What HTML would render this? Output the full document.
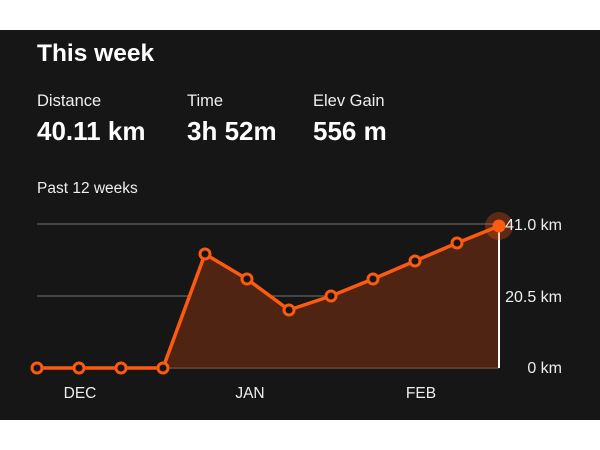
<!DOCTYPE html>
<html><head><style>
body{margin:0;width:600px;height:450px;background:#fff;overflow:hidden;font-family:"Liberation Sans",sans-serif}
</style></head><body>
<svg width="600" height="450" xmlns="http://www.w3.org/2000/svg" style="position:absolute;left:0;top:0">
<rect x="0" y="30" width="600" height="390" fill="#161616"/>
<text x="37" y="61" fill="#fff" font-size="24.5" font-weight="bold">This week</text>
<text x="37" y="106" fill="#eee" font-size="16.5">Distance</text>
<text x="187" y="106" fill="#eee" font-size="16.5">Time</text>
<text x="313" y="106" fill="#eee" font-size="16.5">Elev Gain</text>
<text x="37" y="140" fill="#fff" font-size="26" font-weight="bold">40.11 km</text>
<text x="187" y="140" fill="#fff" font-size="26" font-weight="bold">3h 52m</text>
<text x="313" y="140" fill="#fff" font-size="26" font-weight="bold">556 m</text>
<text x="37" y="193" fill="#eee" font-size="15.5">Past 12 weeks</text>
<g stroke="#555" stroke-width="1.5">
<line x1="37" y1="224" x2="499" y2="224"/>
<line x1="37" y1="296" x2="499" y2="296"/>
<line x1="37" y1="368" x2="499" y2="368"/>
</g>
<polygon fill="#4f2412" points="163,368 205,254 247,279 289,310 331,296 373,279 415,261 457,243 499,226 499,368"/>
<line x1="163" y1="368" x2="499" y2="368" stroke="#6a4030" stroke-width="1.5"/>
<line x1="499" y1="226" x2="499" y2="368" stroke="#fff" stroke-width="2"/>
<polyline fill="none" stroke="#fc5a10" stroke-width="3.5" stroke-linejoin="round" points="37,368 79,368 121,368 163,368 205,254 247,279 289,310 331,296 373,279 415,261 457,243 499,226"/>
<g fill="#161616" stroke="#fc5a10" stroke-width="3">
<circle cx="37" cy="368" r="5"/><circle cx="79" cy="368" r="5"/><circle cx="121" cy="368" r="5"/><circle cx="163" cy="368" r="5"/>
<circle cx="205" cy="254" r="5"/><circle cx="247" cy="279" r="5"/><circle cx="289" cy="310" r="5"/><circle cx="331" cy="296" r="5"/>
<circle cx="373" cy="279" r="5"/><circle cx="415" cy="261" r="5"/><circle cx="457" cy="243" r="5"/>
</g>
<circle cx="499" cy="226" r="14" fill="#fc5a10" opacity="0.3"/>
<circle cx="499" cy="226" r="6.5" fill="#fc5a10"/>
<g fill="#eee" font-size="16" text-anchor="end">
<text x="562" y="230">41.0 km</text>
<text x="562" y="302">20.5 km</text>
<text x="562" y="373">0 km</text>
</g>
<g fill="#eee" font-size="15.5" text-anchor="middle">
<text x="80" y="398">DEC</text>
<text x="250" y="398">JAN</text>
<text x="421" y="398">FEB</text>
</g>
</svg>
</body></html>
